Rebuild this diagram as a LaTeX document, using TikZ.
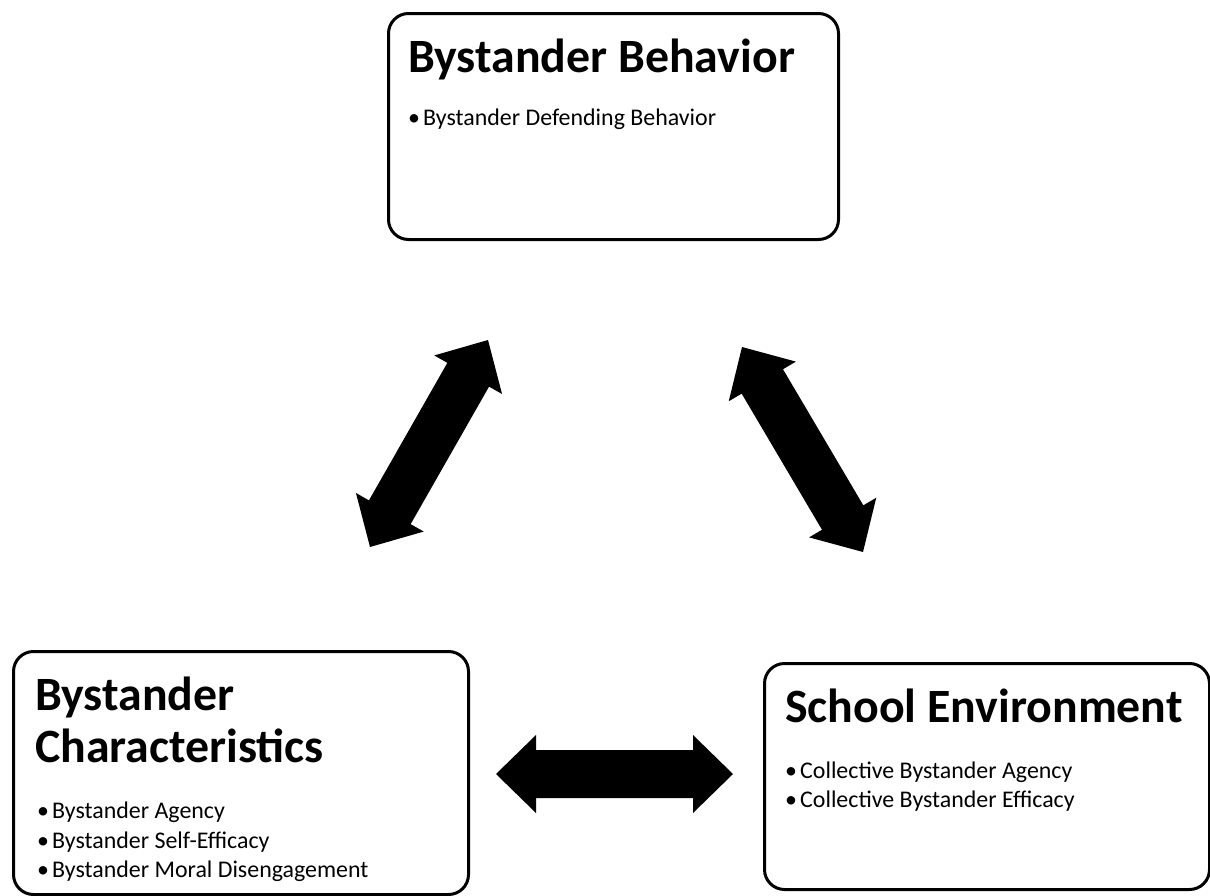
\documentclass[tikz,border=0pt]{standalone}
\usepackage{fontspec}
\setmainfont{Carlito}
\usetikzlibrary{calc}
\tikzset{
  box/.style={draw=black, line width=3bp, rounded corners=20bp, fill=white, inner sep=0pt, anchor=north west},
  ttl/.style={anchor=base west, inner sep=0pt, font=\fontsize{48}{52}\selectfont\bfseries},
  itm/.style={anchor=base west, inner sep=0pt, font=\fontsize{24}{29}\selectfont},
  blockarrow/.style={fill=black},
}
\newcommand\bulitem[1]{\makebox[15bp][l]{\textbullet}#1}
\newcommand\blockarrowpair[2]{%
  \coordinate (h1) at ($(#1)!40bp!(#2)$);
  \coordinate (h2) at ($(#2)!40bp!(#1)$);
  \path[blockarrow] (#1) -- ($(h1)!39bp!90:(#2)$) -- ($(h1)!24bp!90:(#2)$)
    -- ($(h2)!24bp!-90:(#1)$) -- ($(h2)!39bp!-90:(#1)$) -- (#2)
    -- ($(h2)!39bp!90:(#1)$) -- ($(h2)!24bp!90:(#1)$)
    -- ($(h1)!24bp!-90:(#2)$) -- ($(h1)!39bp!-90:(#2)$) -- cycle;}
\begin{document}
\begin{tikzpicture}[x=1bp,y=-1bp]
\useasboundingbox (0,0) rectangle (1210,896);
\path[fill=white] (0,0) rectangle (1210,896);

% boxes
\node[box, minimum width=450bp, minimum height=226bp] (behav) at (387,12) {};
\node[box, minimum width=455bp, minimum height=243bp] (charac) at (12,650) {};
\node[box, minimum width=445bp, minimum height=226bp] (school) at (763,662) {};

% texts
\node[ttl] (behavT) at (408,72) {Bystander Behavior};
\node[itm] (behav1) at (408,125) {\bulitem{Bystander Defending Behavior}};

\node[ttl] (characT1) at (35,710) {Bystander};
\node[ttl] (characT2) at (35,762) {Characteristics};
\node[itm] (charac1) at (37,818) {\bulitem{Bystander Agency}};
\node[itm] (charac2) at (37,848) {\bulitem{Bystander Self-Efficacy}};
\node[itm] (charac3) at (37,877) {\bulitem{Bystander Moral Disengagement}};

\node[ttl] (schoolT) at (785,722) {School Environment};
\node[itm] (school1) at (785,778) {\bulitem{Collective Bystander Agency}};
\node[itm] (school2) at (785,807) {\bulitem{Collective Bystander Efficacy}};

% arrow end points
\coordinate (la1) at (370,547);
\coordinate (la2) at (488,340);
\coordinate (ra1) at (742,347);
\coordinate (ra2) at (863,552);
\coordinate (ha1) at (496,774);
\coordinate (ha2) at (733,774);

\blockarrowpair{la1}{la2}
\blockarrowpair{ra1}{ra2}
\blockarrowpair{ha1}{ha2}
\end{tikzpicture}
\end{document}
